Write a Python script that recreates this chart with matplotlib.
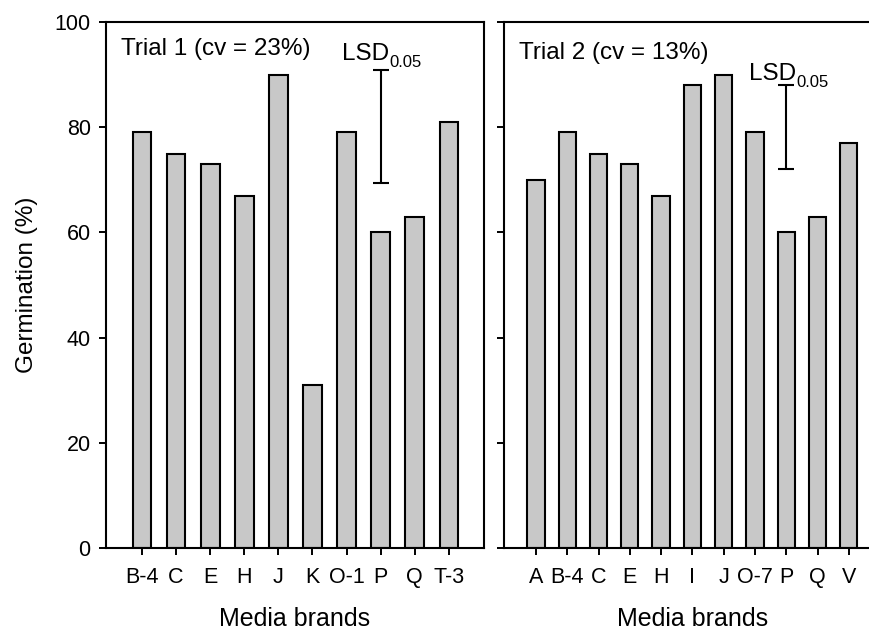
import matplotlib
matplotlib.use("Agg")
import matplotlib.pyplot as plt
import numpy as np

plt.rcParams['font.family'] = ['Liberation Sans', 'DejaVu Sans']
plt.rcParams['mathtext.fontset'] = 'custom'
plt.rcParams['mathtext.rm'] = 'Liberation Sans'
plt.rcParams['mathtext.it'] = 'Liberation Sans'

# ---- data ----
trial1_brands = ["B-4", "C", "E", "H", "J", "K", "O-1", "P", "Q", "T-3"]
trial1_germ = [79, 75, 73, 67, 90, 31, 79, 60, 63, 81]
trial1_lsd = [69.3, 90.8]      # LSD bar low / high
trial1_lsd_pos = "P"

trial2_brands = ["A", "B-4", "C", "E", "H", "I", "J", "O-7", "P", "Q", "V"]
trial2_germ = [70, 79, 75, 73, 67, 88, 90, 79, 60, 63, 77]
trial2_lsd = [72, 88]
trial2_lsd_pos = "P"

yticks = [0, 20, 40, 60, 80, 100]
titles = ["Trial 1 (cv = 23%)", "Trial 2 (cv = 13%)"]

W, H = 869, 633
fig = plt.figure(figsize=(W / 100, H / 100), dpi=100)

def px_axes(x0, x1, y0, y1):
    return fig.add_axes([x0 / W, (H - y1) / H, (x1 - x0) / W, (y1 - y0) / H])

ax1 = px_axes(106, 484, 22, 548)
ax2 = px_axes(504, 882, 22, 548)

bar_color = "#c8c8c8"
configs = [
    (ax1, trial1_brands, trial1_germ, trial1_lsd, trial1_lsd_pos, (-1.056, 10.03), titles[0],
     (0.040, 0.937), (0.624, 0.928), True),
    (ax2, trial2_brands, trial2_germ, trial2_lsd, trial2_lsd_pos, (-1.02, 11.06), titles[1],
     (0.040, 0.930), (0.648, 0.890), False),
]

for ax, brands, vals, lsd, lsd_pos, xlim, title, tpos, lpos, show_y in configs:
    x = np.arange(len(brands))
    ax.bar(x, vals, width=0.55, color=bar_color, edgecolor="black", linewidth=1.5, zorder=2)
    xl = brands.index(lsd_pos)
    ax.errorbar([xl], [(lsd[0] + lsd[1]) / 2], yerr=[(lsd[1] - lsd[0]) / 2],
                fmt="none", ecolor="black", elinewidth=1.5, capsize=5.8, capthick=1.5, zorder=3)
    ax.set_xlim(*xlim)
    ax.set_ylim(0, 100)
    ax.set_xticks(x)
    ax.set_xticklabels(brands, fontsize=15.5)
    ax.set_yticks(yticks)
    if show_y:
        ax.set_yticklabels([str(v) for v in yticks], fontsize=15.5)
        ax.set_ylabel("Germination (%)", fontsize=17.5, labelpad=12)
    else:
        ax.set_yticklabels([])
    ax.tick_params(axis="both", direction="out", length=5, width=1.4, pad=6)
    ax.tick_params(axis="x", pad=9)
    for s in ax.spines.values():
        s.set_linewidth(1.5)
    ax.set_xlabel("Media brands", fontsize=18, labelpad=13)
    ax.text(tpos[0], tpos[1], title, transform=ax.transAxes, fontsize=17.5,
            ha="left", va="baseline")
    t = ax.text(lpos[0], lpos[1], "LSD", transform=ax.transAxes, fontsize=17.5,
                ha="left", va="baseline")
    fig.canvas.draw()
    bb = t.get_window_extent().transformed(ax.transAxes.inverted())
    ax.text(bb.x1 + 0.002, lpos[1] - 0.014, "0.05", transform=ax.transAxes, fontsize=12,
            ha="left", va="baseline")

fig.savefig("out.png", dpi=100)
